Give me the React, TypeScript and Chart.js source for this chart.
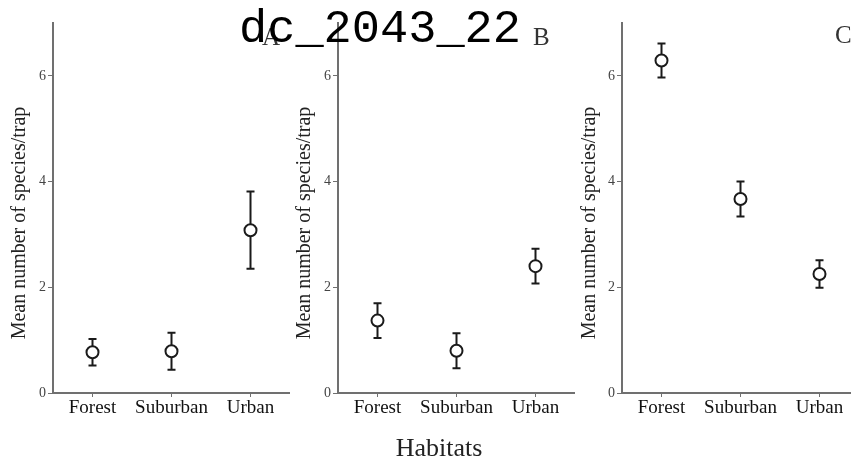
import React, { useEffect, useRef } from "react";
import { Chart, registerables } from "chart.js";
Chart.register(...registerables);

const habitats = ["Forest", "Suburban", "Urban"];
const meanA = [0.77, 0.79, 3.08];
const errA = [0.25, 0.35, 0.73];
const meanB = [1.37, 0.8, 2.4];
const errB = [0.33, 0.33, 0.33];
const meanC = [6.29, 3.67, 2.25];
const errC = [0.32, 0.33, 0.26];
const yTicks = [0, 2, 4, 6];
const yMin = 0;
const yMax = 7;
const panelLabels = ["A", "B", "C"];
const yTitle = "Mean number of species/trap";
const xTitle = "Habitats";
const chartTitle = "dc_2043_22";

const SERIF = "'Liberation Serif', 'Times New Roman', serif";
const AXIS = "#707070";

const errorBarPlugin = {
  id: "errorBars",
  beforeDatasetsDraw(chart: any, _args: any, opts: any) {
    const { ctx, scales } = chart;
    const x = scales.x;
    const y = scales.y;
    const ds = chart.data.datasets[0];
    const errs: number[] = opts.errors || [];
    ctx.save();
    ctx.strokeStyle = "#1a1a1a";
    ctx.lineWidth = 2;
    ds.data.forEach((v: number, i: number) => {
      const px = x.getPixelForValue(i);
      const top = y.getPixelForValue(v + errs[i]);
      const bot = y.getPixelForValue(v - errs[i]);
      ctx.beginPath();
      ctx.moveTo(px, top);
      ctx.lineTo(px, bot);
      ctx.moveTo(px - 4, top);
      ctx.lineTo(px + 4, top);
      ctx.moveTo(px - 4, bot);
      ctx.lineTo(px + 4, bot);
      ctx.stroke();
    });
    ctx.restore();
  },
};

type PanelProps = {
  means: number[];
  errs: number[];
  left: number;
  width: number;
  axisWidth: number;
  titlePad: number;
};

function Panel({ means, errs, left, width, axisWidth, titlePad }: PanelProps) {
  const ref = useRef<HTMLCanvasElement | null>(null);
  useEffect(() => {
    if (!ref.current) return;
    const chart = new Chart(ref.current, {
      type: "line",
      data: {
        labels: habitats,
        datasets: [
          {
            data: means,
            showLine: false,
            pointRadius: 6,
            pointHoverRadius: 6,
            pointBackgroundColor: "#ffffff",
            pointBorderColor: "#1a1a1a",
            pointBorderWidth: 2,
          },
        ],
      },
      plugins: [errorBarPlugin],
      options: {
        responsive: false,
        animation: false,
        devicePixelRatio: 1,
        layout: { autoPadding: false, padding: { top: 23, left: 0, right: 0, bottom: 0 } },
        plugins: {
          legend: { display: false },
          tooltip: { enabled: false },
          title: { display: false },
          errorBars: { errors: errs },
        } as any,
        scales: {
          x: {
            type: "category",
            offset: true,
            grid: {
              display: true,
              drawOnChartArea: false,
              drawTicks: true,
              tickLength: 4,
              color: AXIS,
              lineWidth: 1,
            },
            border: { display: true, color: AXIS, width: 2 },
            ticks: {
              font: { family: SERIF, size: 19 },
              color: "#111",
              padding: 0,
              maxRotation: 0,
            },
            afterFit: (scale: any) => {
              scale.height = 71;
            },
          },
          y: {
            type: "linear",
            min: yMin,
            max: yMax,
            afterBuildTicks: (scale: any) => {
              scale.ticks = yTicks.map((v) => ({ value: v }));
            },
            grid: {
              display: true,
              drawOnChartArea: false,
              drawTicks: true,
              tickLength: 5,
              color: AXIS,
              lineWidth: 1,
            },
            border: { display: true, color: AXIS, width: 2 },
            ticks: {
              font: { family: SERIF, size: 14 },
              color: "#444",
              padding: 2,
            },
            title: {
              display: true,
              text: yTitle + "      ",
              font: { family: SERIF, size: 20 },
              color: "#222",
              padding: { top: titlePad, bottom: 0 },
            },
            afterFit: (scale: any) => {
              scale.width = axisWidth;
            },
          },
        },
      } as any,
    });
    return () => chart.destroy();
  }, [means, errs, axisWidth, titlePad]);
  return (
    <canvas
      ref={ref}
      width={width}
      height={464}
      style={{ position: "absolute", left, top: 0, display: "block" }}
    />
  );
}

export default function App() {
  const labelStyle = (left: number, top: number): React.CSSProperties => ({
    position: "absolute",
    left,
    top,
    fontFamily: SERIF,
    fontSize: 25,
    lineHeight: "25px",
    color: "#333",
  });
  return (
    <div
      style={{
        position: "fixed",
        left: 0,
        top: 0,
        width: 851,
        height: 464,
        overflow: "hidden",
        background: "#fff",
      }}
    >
      <Panel means={meanA} errs={errA} left={0} width={290} axisWidth={53} titlePad={8} />
      <Panel means={meanB} errs={errB} left={290} width={285} axisWidth={48} titlePad={3} />
      <Panel means={meanC} errs={errC} left={575} width={284} axisWidth={47} titlePad={3} />
      <div style={labelStyle(262, 24)}>{panelLabels[0]}</div>
      <div style={labelStyle(533, 24)}>{panelLabels[1]}</div>
      <div style={labelStyle(835, 22)}>{panelLabels[2]}</div>
      <div
        style={{
          position: "absolute",
          left: 0,
          width: 760,
          top: 6,
          textAlign: "center",
          fontFamily: "'Liberation Mono', monospace",
          fontSize: 47,
          lineHeight: "47px",
          color: "#000",
          whiteSpace: "nowrap",
        }}
      >
        {chartTitle}
      </div>
      <div
        style={{
          position: "absolute",
          left: 239,
          width: 400,
          top: 435,
          textAlign: "center",
          fontFamily: SERIF,
          fontSize: 26,
          lineHeight: "26px",
          color: "#222",
        }}
      >
        {xTitle}
      </div>
    </div>
  );
}
